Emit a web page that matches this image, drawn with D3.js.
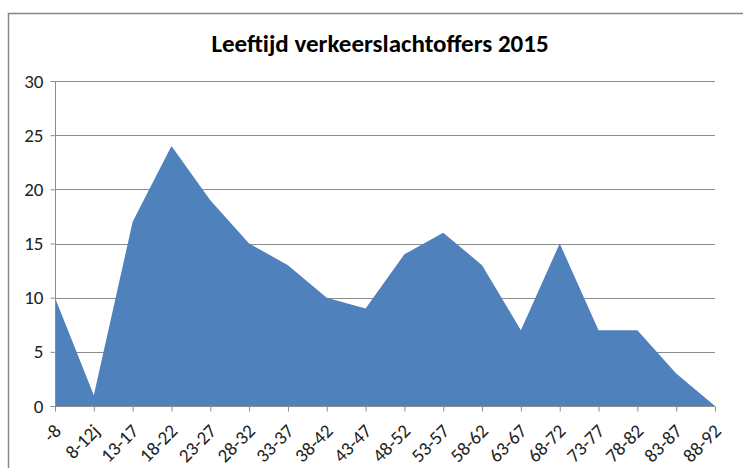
<!DOCTYPE html>
<html>
<head>
<meta charset="utf-8">
<script src="https://cdn.jsdelivr.net/npm/d3@7"></script>
<style>
  body { margin: 0; background: #fff; }
  svg { display: block; }
</style>
</head>
<body>
<div id="chart"></div>
<script>
// data
var categories = ['-8', '8-12j', '13-17', '18-22', '23-27', '28-32', '33-37', '38-42', '43-47',
  '48-52', '53-57', '58-62', '63-67', '68-72', '73-77', '78-82', '83-87', '88-92'];
var victims = [10, 1, 17, 24, 19, 15, 13, 10, 9, 14, 16, 13, 7, 15, 7, 7, 3, 0];
var yTicks = [0, 5, 10, 15, 20, 25, 30];

var width = 743, height = 468;
var margin = { left: 55, right: 28, top: 81, bottom: 62 };
var labelFont = 'Carlito, Lato, "Liberation Sans", sans-serif';

var svg = d3.select('#chart').append('svg')
  .attr('width', width)
  .attr('height', height);

// chart border
svg.append('rect')
  .attr('x', 8.5).attr('y', 13.5)
  .attr('width', width + 10).attr('height', height)
  .attr('fill', 'none')
  .attr('stroke', '#868686')
  .attr('stroke-width', 1.5);

svg.append('text')
  .attr('x', 380).attr('y', 52)
  .attr('text-anchor', 'middle')
  .attr('font-size', 25)
  .attr('font-weight', 'bold')
  .attr('font-family', labelFont)
  .attr('fill', '#000')
  .text('Leeftijd verkeerslachtoffers 2015');

var x = d3.scalePoint()
  .domain(categories)
  .range([margin.left, width - margin.right]);

var y = d3.scaleLinear()
  .domain([0, 30])
  .range([height - margin.bottom, margin.top]);

// gridlines
svg.append('g')
  .selectAll('line')
  .data(yTicks.slice(1))
  .join('line')
    .attr('x1', margin.left)
    .attr('x2', width - margin.right)
    .attr('y1', function (d) { return Math.round(y(d)) + 0.5; })
    .attr('y2', function (d) { return Math.round(y(d)) + 0.5; })
    .attr('stroke', '#8c8c8c');

// area
var area = d3.area()
  .x(function (d, i) { return x(categories[i]); })
  .y0(y(0))
  .y1(function (d) { return y(d); });

svg.append('path')
  .datum(victims)
  .attr('d', area)
  .attr('fill', '#4f81bd');

// y axis
var yAxis = svg.append('g')
  .attr('transform', 'translate(' + (margin.left + 0.5) + ',0)')
  .call(d3.axisLeft(y).tickValues(yTicks).tickSize(5).tickPadding(7))
  .attr('font-size', 19)
  .attr('font-family', labelFont);
yAxis.selectAll('path, line').attr('stroke', '#8c8c8c');
yAxis.select('.domain').attr('d', 'M0,' + y(30) + 'V' + y(0));
yAxis.selectAll('text').attr('fill', '#222');

// x axis
var xAxis = svg.append('g')
  .attr('transform', 'translate(0,' + (Math.round(y(0)) + 0.5) + ')')
  .call(d3.axisBottom(x).tickSize(5).tickSizeOuter(0))
  .attr('font-size', 19)
  .attr('font-family', labelFont);
xAxis.selectAll('path, line').attr('stroke', '#8c8c8c');
xAxis.select('.domain').attr('d', 'M' + margin.left + ',0H' + (width - margin.right));
xAxis.selectAll('text')
  .attr('fill', '#222')
  .attr('text-anchor', 'end')
  .attr('y', 0)
  .attr('dy', '0.35em')
  .attr('transform', 'translate(2,21) rotate(-45)');
</script>
</body>
</html>
